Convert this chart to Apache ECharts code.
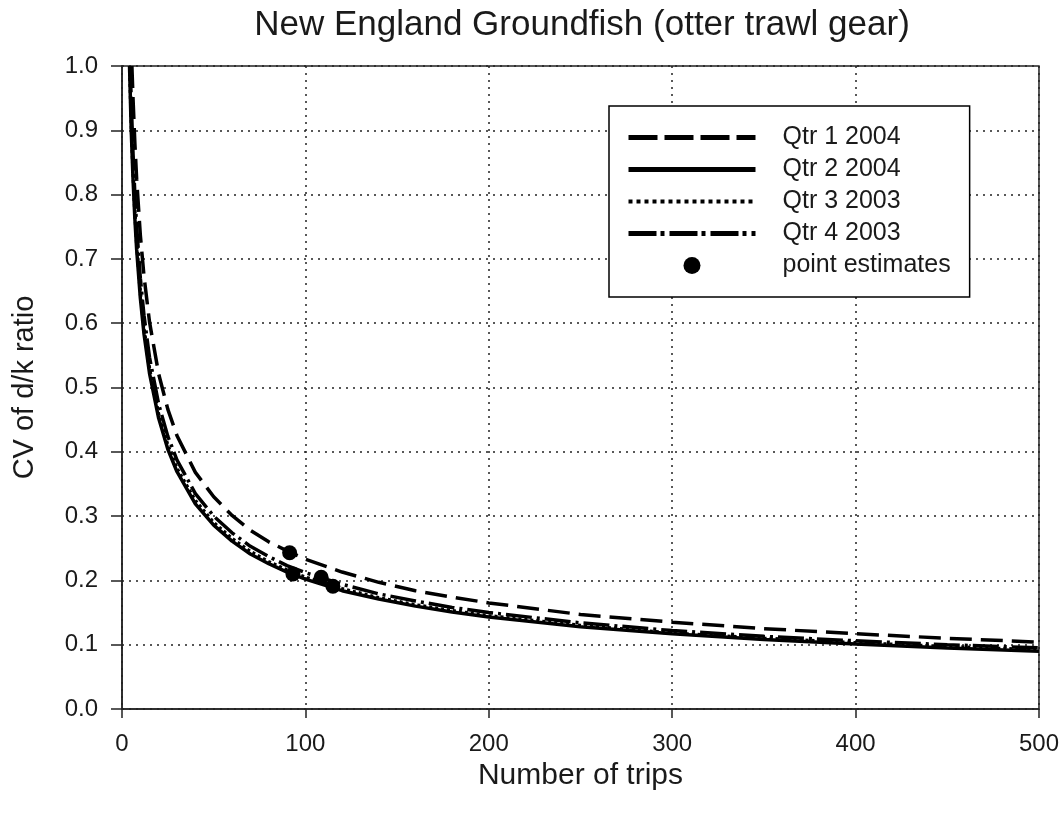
<!DOCTYPE html>
<html>
<head>
<meta charset="utf-8">
<script src="https://cdn.jsdelivr.net/npm/echarts@6/dist/echarts.min.js"></script>
<style>
html,body{margin:0;padding:0;background:#fff;}
#chart{width:1062px;height:816px;}
</style>
</head>
<body>
<div id="chart"></div>
<script>
// ---- data ----
const tripsQ1 = [5.4, 6, 7, 8, 10, 12, 15, 20, 25, 30, 40, 50, 60, 70, 80, 90, 100, 120, 140, 160, 180, 200, 250, 300, 350, 400, 450, 500];
const cvQ1    = [1.0, 0.951, 0.881, 0.824, 0.737, 0.673, 0.602, 0.521, 0.466, 0.425, 0.368, 0.330, 0.301, 0.278, 0.260, 0.246, 0.233, 0.213, 0.197, 0.184, 0.174, 0.165, 0.147, 0.135, 0.125, 0.117, 0.110, 0.104];

const tripsQ2 = [4.1, 5, 6, 7, 8, 10, 12, 15, 20, 25, 30, 40, 50, 60, 70, 80, 90, 100, 120, 140, 160, 180, 200, 250, 300, 350, 400, 450, 500];
const cvQ2    = [1.0, 0.903, 0.825, 0.763, 0.714, 0.639, 0.583, 0.522, 0.452, 0.404, 0.369, 0.319, 0.286, 0.261, 0.241, 0.226, 0.213, 0.202, 0.184, 0.171, 0.160, 0.151, 0.143, 0.128, 0.117, 0.108, 0.101, 0.095, 0.090];

const tripsQ3 = [4.2, 5, 6, 7, 8, 10, 12, 15, 20, 25, 30, 40, 50, 60, 70, 80, 90, 100, 120, 140, 160, 180, 200, 250, 300, 350, 400, 450, 500];
const cvQ3    = [1.0, 0.917, 0.837, 0.775, 0.725, 0.648, 0.592, 0.529, 0.458, 0.410, 0.374, 0.324, 0.290, 0.265, 0.245, 0.229, 0.216, 0.205, 0.187, 0.173, 0.162, 0.153, 0.145, 0.130, 0.118, 0.110, 0.103, 0.097, 0.092];

const tripsQ4 = [4.5, 5, 6, 7, 8, 10, 12, 15, 20, 25, 30, 40, 50, 60, 70, 80, 90, 100, 120, 140, 160, 180, 200, 250, 300, 350, 400, 450, 500];
const cvQ4    = [1.0, 0.948, 0.865, 0.801, 0.750, 0.670, 0.612, 0.547, 0.474, 0.424, 0.387, 0.335, 0.300, 0.274, 0.253, 0.237, 0.223, 0.212, 0.194, 0.179, 0.168, 0.158, 0.150, 0.134, 0.122, 0.113, 0.106, 0.100, 0.095];

const pointTrips = [91.4, 93.2, 108.6, 115];
const pointCV    = [0.243, 0.210, 0.205, 0.191];

const seriesNames = ['Qtr 1 2004', 'Qtr 2 2004', 'Qtr 3 2003', 'Qtr 4 2003', 'point estimates'];
const xTicks = [0, 100, 200, 300, 400, 500];
const yTicks = [0.0, 0.1, 0.2, 0.3, 0.4, 0.5, 0.6, 0.7, 0.8, 0.9, 1.0];

const zip = (xs, ys) => xs.map((x, i) => [x, ys[i]]);

const FONT = 'Liberation Sans, Arial, sans-serif';
const TXT = '#1a1a1a';

const chart = echarts.init(document.getElementById('chart'), null, {renderer: 'canvas'});

function lineSeries(name, xs, ys, dash) {
  return {
    name: name,
    type: 'line',
    data: zip(xs, ys),
    symbol: 'none',
    smooth: false,
    clip: true,
    lineStyle: {color: '#000', width: 3.5, type: dash},
    itemStyle: {color: '#000'},
    z: 3
  };
}

const hiddenSym = {color: 'transparent', borderWidth: 0, opacity: 0};

chart.setOption({
  animation: false,
  backgroundColor: '#fff',
  title: {
    text: 'New England Groundfish (otter trawl gear)',
    left: 577,
    textAlign: 'center',
    top: 3,
    textStyle: {fontFamily: FONT, fontSize: 35, fontWeight: 'normal', color: TXT}
  },
  grid: {
    left: 122, right: 21, top: 66, bottom: 107,
    show: true, borderColor: '#222', borderWidth: 1.5, backgroundColor: 'transparent'
  },
  legend: {
    orient: 'vertical',
    left: 609, top: 106,
    padding: [19, 19, 19, 17],
    backgroundColor: '#fff',
    borderColor: '#000', borderWidth: 1.5,
    itemWidth: 127, itemHeight: 17, itemGap: 7,
    lineStyle: {width: 5},
    textStyle: {fontFamily: FONT, fontSize: 25, lineHeight: 25, color: TXT, padding: [0, 0, 0, 22]},
    data: [
      {name: seriesNames[0], itemStyle: hiddenSym, lineStyle: {type: [29, 7], width: 5, color: '#000'}},
      {name: seriesNames[1], itemStyle: hiddenSym, lineStyle: {type: 'solid', width: 5, color: '#000'}},
      {name: seriesNames[2], itemStyle: hiddenSym, lineStyle: {type: [4, 4], width: 4, color: '#000'}},
      {name: seriesNames[3], itemStyle: hiddenSym, lineStyle: {type: [28, 4, 4, 5], width: 5, color: '#000'}},
      {name: seriesNames[4], itemStyle: {color: '#000', opacity: 1}}
    ],
    selectedMode: false
  },
  xAxis: {
    type: 'value', min: xTicks[0], max: xTicks[xTicks.length - 1], interval: 100,
    name: 'Number of trips', nameLocation: 'middle', nameGap: 46,
    nameTextStyle: {fontFamily: FONT, fontSize: 30, color: TXT},
    axisLine: {show: true, onZero: false, lineStyle: {color: '#222', width: 1.5}},
    axisTick: {show: true, inside: false, length: 9, lineStyle: {color: '#222', width: 1.5}},
    axisLabel: {fontFamily: FONT, fontSize: 24, color: TXT, margin: 23},
    splitLine: {show: true, lineStyle: {color: '#222', width: 1.5, type: [2, 5]}}
  },
  yAxis: {
    type: 'value', min: yTicks[0], max: yTicks[yTicks.length - 1], interval: 0.1,
    name: 'CV of d/k ratio', nameLocation: 'middle', nameGap: 83, nameRotate: 90,
    nameTextStyle: {fontFamily: FONT, fontSize: 29, color: TXT},
    axisLine: {show: true, onZero: false, lineStyle: {color: '#222', width: 1.5}},
    axisTick: {show: true, inside: false, length: 11, lineStyle: {color: '#222', width: 1.5}},
    axisLabel: {fontFamily: FONT, fontSize: 24, color: TXT, margin: 24,
      formatter: v => v.toFixed(1)},
    splitLine: {show: true, lineStyle: {color: '#222', width: 1.5, type: [2, 5]}}
  },
  series: [
    lineSeries(seriesNames[0], tripsQ1, cvQ1, [22, 9]),
    lineSeries(seriesNames[1], tripsQ2, cvQ2, 'solid'),
    lineSeries(seriesNames[2], tripsQ3, cvQ3, [3, 3]),
    lineSeries(seriesNames[3], tripsQ4, cvQ4, [26, 5, 3, 5]),
    {
      name: seriesNames[4],
      type: 'scatter',
      data: zip(pointTrips, pointCV),
      symbol: 'circle',
      symbolSize: 15,
      itemStyle: {color: '#000', opacity: 1},
      z: 5
    }
  ]
});
</script>
</body>
</html>
